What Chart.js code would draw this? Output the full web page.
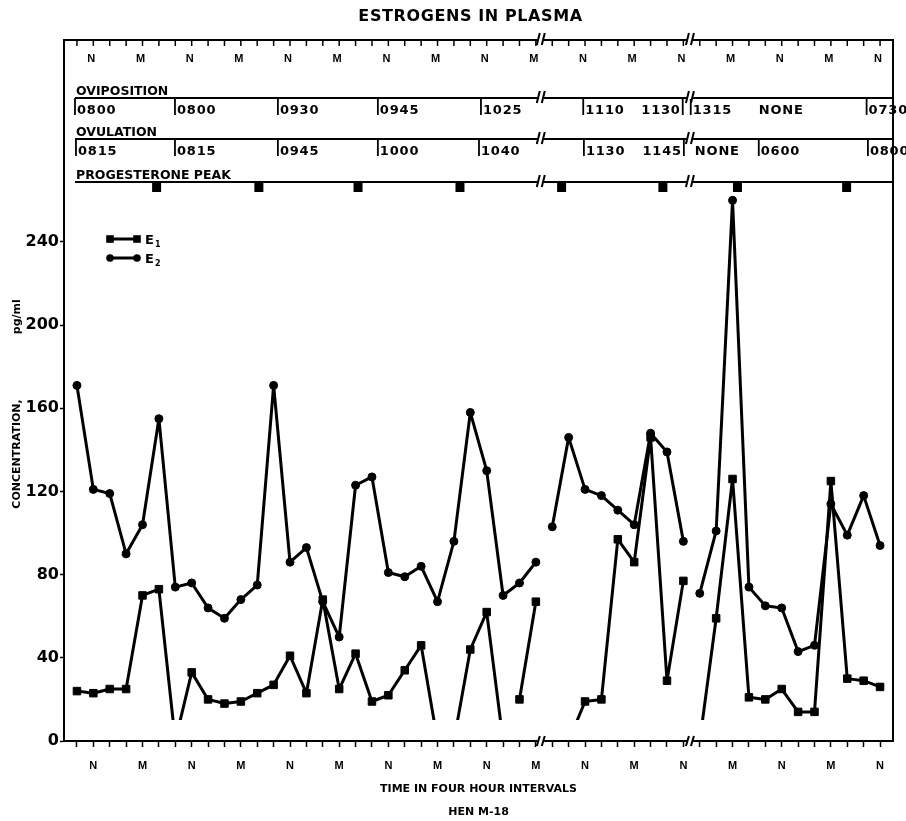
<!DOCTYPE html>
<html>
<head>
<meta charset="utf-8">
<script src="https://cdn.jsdelivr.net/npm/chart.js@4/dist/chart.umd.min.js"></script>
<style>
html,body{margin:0;padding:0;background:#fff;}
#wrap{width:906px;height:821px;position:relative;}
</style>
</head>
<body>
<div id="wrap"><canvas id="c"></canvas></div>
<script>
// ---------- DATA ----------
// time steps of four hours; N = noon, M = midnight
const periodLabels = [
  '', 'N', '',  '', 'M', '',  '', 'N', '',  '', 'M', '',
  '', 'N', '',  '', 'M', '',  '', 'N', '',  '', 'M', '',
  '', 'N', '',  '', 'M', '',  '', 'N', '',  '', 'M', '',
  '', 'N', '',  '', 'M', '',  '', 'N', '',  '', 'M', '',
  '', 'N'
];
const ND = 0; // below detection (line drawn toward baseline, no marker)
const e1Values = [
  24, 23, 25, 25, 70, 73, ND, 33, 20, 18,
  19, 23, 27, 41, 23, 68, 25, 42, 19, 22,
  34, 46, ND, ND, 44, 62, ND, 20, 67, ND,
  ND, 19, 20, 97, 86, 146, 29, 77, ND, 59,
  126, 21, 20, 25, 14, 14, 125, 30, 29, 26
];
const e2Values = [
  171, 121, 119, 90, 104, 155, 74, 76, 64, 59,
  68, 75, 171, 86, 93, 67, 50, 123, 127, 81,
  79, 84, 67, 96, 158, 130, 70, 76, 86, 103,
  146, 121, 118, 111, 104, 148, 139, 96, 71, 101,
  260, 74, 65, 64, 43, 46, 114, 99, 118, 94
];
const yTickValues = [0, 40, 80, 120, 160, 200, 240];
const timeBreaksAt = [28.3, 37.4];          // "//" breaks in the time axis
const brokenAfterIndex = [28, 37];          // no line across a time break
const e1HiddenSegmentAfter = [26];          // segment not drawn in the original

const ovipositionTimes = ['0800','0800','0930','0945','1025','1110','1130','1315','NONE','0730'];
const ovipositionAt    = [-0.12, 5.98, 12.26, 18.36, 24.65, 30.89, 36.96, 37.45, 41.6, 48.18];
const ovulationTimes   = ['0815','0815','0945','1000','1040','1130','1145','NONE','0600','0800'];
const ovulationAt      = [-0.06, 5.98, 12.26, 18.36, 24.53, 30.93, 37.03, 37.7, 41.6, 48.26];
const progesteronePeakAt = [4.86, 11.1, 17.15, 23.37, 29.57, 35.75, 40.3, 46.96];

// ---------- HELPERS ----------
const timeIndex = periodLabels.map((_, k) => k);
const toPoints = vals => vals.map((v, k) => ({x: k, y: v}));
const FONT = '"DejaVu Sans", sans-serif';
const FONT2 = '"Liberation Sans", sans-serif';

function tickSide(label, i) {
  if (label === 'NONE') return 'none';
  if (i === 6) return 'left';   // written to the left of its tick (before the break)
  return 'right';
}

function drawBreak(ctx, x, y, h) {
  ctx.save();
  ctx.fillStyle = '#fff';
  ctx.fillRect(x - 3, y - 2, 6, 4);
  ctx.strokeStyle = '#000';
  ctx.lineWidth = 2;
  ctx.beginPath();
  ctx.moveTo(x - 4, y + h / 2); ctx.lineTo(x - 1, y - h / 2);
  ctx.moveTo(x + 1, y + h / 2); ctx.lineTo(x + 4, y - h / 2);
  ctx.stroke();
  ctx.restore();
}

const annotationPlugin = {
  id: 'annotations',
  afterDraw(chart) {
    const {ctx, chartArea: a, scales: {x}} = chart;
    const px = v => x.getPixelForValue(v);
    ctx.save();
    ctx.strokeStyle = '#000';
    ctx.fillStyle = '#000';

    // title
    ctx.font = 'bold 16px ' + FONT;
    ctx.textAlign = 'center';
    ctx.textBaseline = 'middle';
    ctx.letterSpacing = '0.6px';
    ctx.fillText('ESTROGENS IN PLASMA', (a.left + a.right) / 2 - 8, 17);
    ctx.letterSpacing = '0px';

    // frame
    ctx.lineWidth = 2;
    ctx.strokeRect(a.left, a.top, a.right - a.left, a.bottom - a.top);

    // top inward ticks
    ctx.lineWidth = 1.5;
    timeIndex.forEach(k => {
      ctx.beginPath();
      ctx.moveTo(px(k), a.top);
      ctx.lineTo(px(k), a.top + 6);
      ctx.stroke();
    });
    // top N / M labels
    ctx.font = 'bold 11px ' + FONT2;
    periodLabels.forEach((l, k) => { if (l) ctx.fillText(l, px(k) - 2, a.top + 19); });

    // event rows
    const rowStart = px(-0.12);
    const rows = [
      {name: 'OVIPOSITION', y: a.top + 58, times: ovipositionTimes, at: ovipositionAt},
      {name: 'OVULATION', y: a.top + 99, times: ovulationTimes, at: ovulationAt},
      {name: 'PROGESTERONE PEAK', y: a.top + 142, times: null}
    ];
    rows.forEach(r => {
      ctx.lineWidth = 2;
      ctx.beginPath();
      ctx.moveTo(rowStart, r.y);
      ctx.lineTo(a.right, r.y);
      ctx.stroke();
      ctx.font = 'bold 12.5px ' + FONT;
      ctx.textAlign = 'left';
      ctx.textBaseline = 'alphabetic';
      ctx.fillText(r.name, rowStart + 1, r.y - 3);
      if (r.times) {
        ctx.font = 'bold 13px ' + FONT;
        ctx.letterSpacing = '0.8px';
        r.times.forEach((t, i) => {
          const xx = px(r.at[i]);
          const side = tickSide(t, i);
          ctx.lineWidth = 1.8;
          if (side !== 'none') {
            ctx.beginPath();
            ctx.moveTo(xx, r.y);
            ctx.lineTo(xx, r.y + 17);
            ctx.stroke();
          }
          if (side === 'left') {
            ctx.textAlign = 'right';
            ctx.fillText(t, xx - 2, r.y + 16);
          } else if (side === 'right') {
            ctx.textAlign = 'left';
            ctx.fillText(t, xx + 2, r.y + 16);
          } else {
            ctx.textAlign = 'left';
            ctx.fillText(t, xx, r.y + 16);
          }
        });
        ctx.letterSpacing = '0px';
      } else {
        progesteronePeakAt.forEach(p => {
          ctx.fillRect(px(p) - 4.5, r.y + 1, 9, 9);
        });
      }
    });

    // time-axis breaks
    timeBreaksAt.forEach(b => {
      const xx = px(b);
      drawBreak(ctx, xx, a.top - 1, 12);
      rows.forEach(r => drawBreak(ctx, xx, r.y - 1, 12));
      drawBreak(ctx, xx, a.bottom, 10);
    });

    // legend
    const lx = a.left + 46, lx2 = a.left + 73;
    const ly1 = 239, ly2 = 258;
    ctx.lineWidth = 3;
    ctx.beginPath();
    ctx.moveTo(lx, ly1); ctx.lineTo(lx2, ly1);
    ctx.moveTo(lx, ly2); ctx.lineTo(lx2, ly2);
    ctx.stroke();
    [lx, lx2].forEach(xx => {
      ctx.fillRect(xx - 3.8, ly1 - 3.8, 7.6, 7.6);
      ctx.beginPath(); ctx.arc(xx, ly2, 3.8, 0, Math.PI * 2); ctx.fill();
    });
    ctx.textAlign = 'left';
    ctx.textBaseline = 'alphabetic';
    [['1', ly1], ['2', ly2]].forEach(([s, yy]) => {
      ctx.font = 'bold 13px ' + FONT;
      ctx.fillText('E', lx2 + 8, yy + 5);
      const w = ctx.measureText('E').width;
      ctx.font = 'bold 8px ' + FONT;
      ctx.fillText(s, lx2 + 8 + w + 1, yy + 8);
    });
    ctx.restore();
  }
};

new Chart(document.getElementById('c'), {
  type: 'line',
  data: {
    datasets: [
      {
        label: 'E1',
        data: toPoints(e1Values),
        borderColor: '#000',
        backgroundColor: '#000',
        borderWidth: 3,
        borderJoinStyle: 'round',
        pointStyle: 'rect',
        pointRadius: ctx => (ctx.raw && ctx.raw.y === ND) ? 0 : 5.3,
        pointBorderWidth: 1,
        pointBackgroundColor: '#000',
        tension: 0,
        clip: {left: 20, top: 20, right: 20, bottom: -21},
        segment: {
          borderColor: ctx => (brokenAfterIndex.includes(ctx.p0DataIndex) ||
                               e1HiddenSegmentAfter.includes(ctx.p0DataIndex)) ? 'rgba(0,0,0,0)' : undefined
        }
      },
      {
        label: 'E2',
        data: toPoints(e2Values),
        borderColor: '#000',
        backgroundColor: '#000',
        borderWidth: 3,
        borderJoinStyle: 'round',
        pointStyle: 'circle',
        pointRadius: 4,
        pointBorderWidth: 1,
        pointBackgroundColor: '#000',
        tension: 0,
        segment: {
          borderColor: ctx => brokenAfterIndex.includes(ctx.p0DataIndex) ? 'rgba(0,0,0,0)' : undefined
        }
      }
    ]
  },
  options: {
    responsive: true,
    maintainAspectRatio: false,
    animation: false,
    events: [],
    layout: {padding: {top: 40, right: 13, left: 0, bottom: 0}},
    plugins: {legend: {display: false}, tooltip: {enabled: false}, title: {display: false}},
    scales: {
      x: {
        type: 'linear',
        min: -0.79,
        max: 49.79,
        afterBuildTicks: s => { s.ticks = timeIndex.map(v => ({value: v})); },
        afterFit: s => { s.height = 80; },
        grid: {drawOnChartArea: false, drawTicks: true, tickLength: 6, tickWidth: 1.5, tickColor: '#000'},
        border: {display: true, color: '#000', width: 2},
        ticks: {
          autoSkip: false, maxRotation: 0, padding: 12, color: '#000',
          font: {family: FONT2, weight: 'bold', size: 11},
          callback: v => periodLabels[v] || ''
        },
        title: {
          display: true,
          text: ['TIME IN FOUR HOUR INTERVALS', 'HEN M-18'],
          color: '#000',
          font: {family: FONT, weight: 'bold', size: 11, lineHeight: 23 / 11},
          padding: {top: 0, bottom: -2.5}
        }
      },
      y: {
        type: 'linear',
        min: 0,
        max: 337.1,
        afterBuildTicks: s => { s.ticks = yTickValues.map(v => ({value: v})); },
        afterFit: s => { s.width = 64; },
        grid: {drawOnChartArea: false, drawTicks: true, tickLength: 4, tickWidth: 1.5, tickColor: '#000'},
        border: {display: true, color: '#000', width: 2},
        ticks: {padding: 1, color: '#000', font: {family: FONT, weight: 'bold', size: 16}},
        title: {
          display: true,
          text: 'CONCENTRATION,' + ' '.repeat(17) + 'pg/ml' + ' '.repeat(7),
          color: '#000',
          font: {family: FONT, weight: 'bold', size: 11},
          padding: {top: 11, bottom: 0}
        }
      }
    }
  },
  plugins: [annotationPlugin]
});
</script>
</body>
</html>
